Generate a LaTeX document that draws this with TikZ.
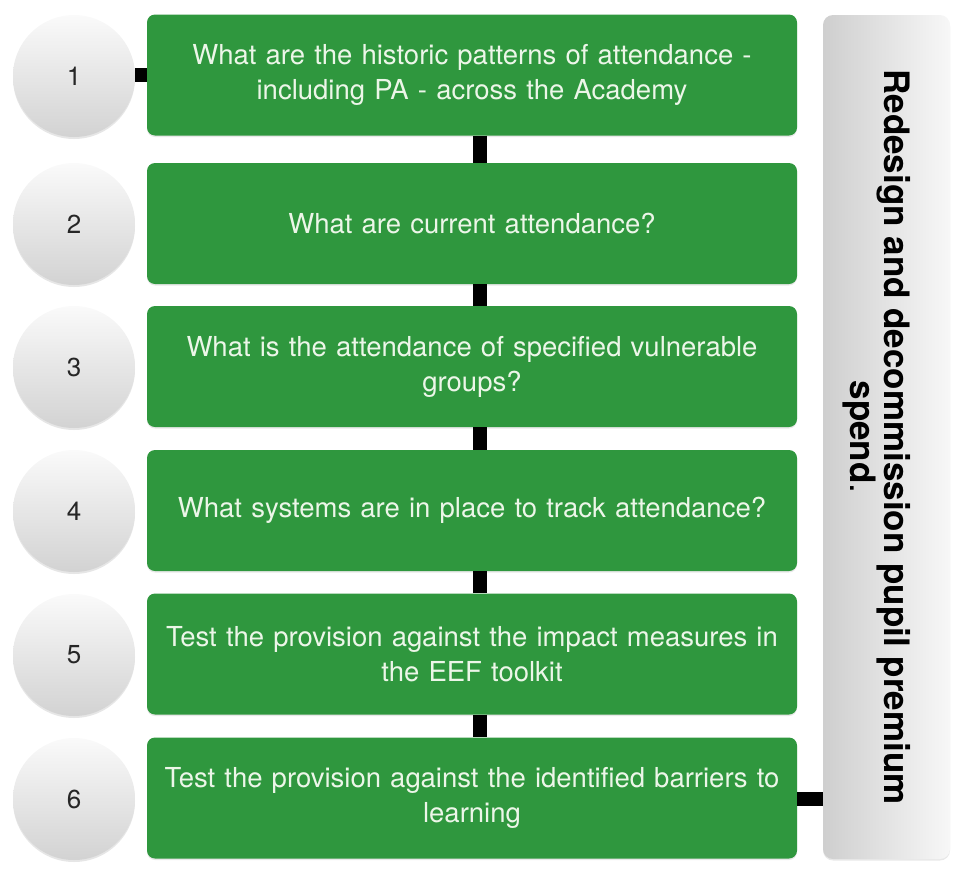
\documentclass[tikz,border=0pt]{standalone}
\usepackage{fontspec}
\setmainfont{TeX Gyre Heros}
\usetikzlibrary{shadows}
\definecolor{boxgreen}{RGB}{47,151,62}
\definecolor{boxtext}{RGB}{236,246,232}
\tikzset{
  stepbox/.style={draw=none, fill=boxgreen, rounded corners=8pt, minimum width=650pt, minimum height=121pt,
    text width=640pt, align=center, text=boxtext, font=\fontsize{27.5}{35}\selectfont, inner sep=0pt,
    drop shadow={opacity=0.18, shadow xshift=0pt, shadow yshift=-1.5pt}},
  numcircle/.style={circle, minimum size=122pt, inner sep=0pt, top color=gray!4, bottom color=gray!35,
    font=\fontsize{26}{30}\selectfont, text=black!85,
    drop shadow={opacity=0.2, shadow xshift=0pt, shadow yshift=-2pt}},
  sidebar/.style={rounded corners=10pt, minimum width=127pt, minimum height=844pt, inner sep=0pt,
    left color=gray!38, right color=gray!6,
    drop shadow={opacity=0.18, shadow xshift=0pt, shadow yshift=-1.5pt}},
  link/.style={draw=black, line width=14pt},
}
\begin{document}
\begin{tikzpicture}[x=1pt, y=-1pt]
\useasboundingbox (0,0) rectangle (970,873);
% boxes
\node[stepbox] (b1) at (472,75) {What are the historic patterns of attendance -\\ including PA - across the Academy};
\node[stepbox] (b2) at (472,223.5) {What are current attendance?};
\node[stepbox] (b3) at (472,366.5) {What is the attendance of specified vulnerable\\ groups?};
\node[stepbox] (b4) at (472,510.5) {What systems are in place to track attendance?};
\node[stepbox] (b5) at (472,654) {Test the provision against the impact measures in\\ the EEF toolkit};
\node[stepbox] (b6) at (472,798) {Test the provision against the identified barriers to\\ learning};
% circles
\node[numcircle] (c1) at (74,76) {1};
\node[numcircle] (c2) at (74,224) {2};
\node[numcircle] (c3) at (74,367) {3};
\node[numcircle] (c4) at (74,511) {4};
\node[numcircle] (c5) at (74,655) {5};
\node[numcircle] (c6) at (74,799) {6};
% side bar
\node[sidebar] (bar) at (886.5,437) {};
\node[rotate=-90, align=center, font=\fontsize{35}{34}\selectfont, text=black] (bartext) at ([xshift=-10pt]bar.center)
  {\textbf{Redesign and decommission pupil premium}\\ \textbf{spend}.};
% connectors
\coordinate (cx) at (480,0);
\draw[link] (c1.east |- b1.west) -- (b1.west);
\draw[link] (b1.south -| cx) -- (b2.north -| cx);
\draw[link] (b2.south -| cx) -- (b3.north -| cx);
\draw[link] (b3.south -| cx) -- (b4.north -| cx);
\draw[link] (b4.south -| cx) -- (b5.north -| cx);
\draw[link] (b5.south -| cx) -- (b6.north -| cx);
\draw[link] ([yshift=-1pt]b6.east) -- ([yshift=-1pt]b6.east -| bar.west);
\end{tikzpicture}
\end{document}
